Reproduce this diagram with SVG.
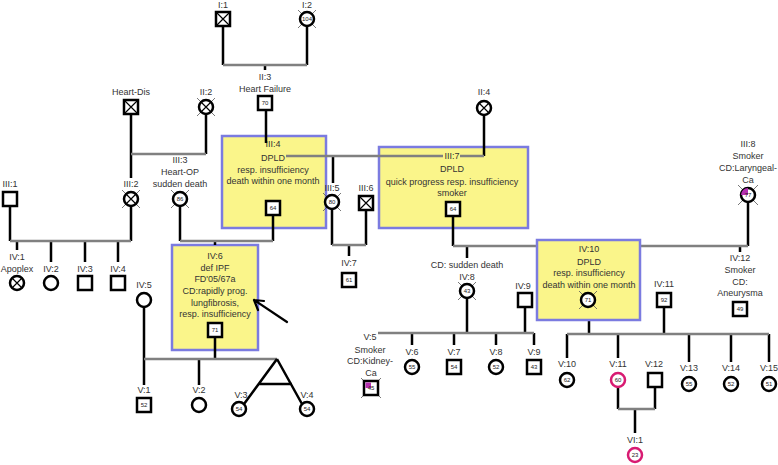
<svg xmlns="http://www.w3.org/2000/svg" width="778" height="465" viewBox="0 0 778 465">
<style>
.v{stroke:#000;stroke-width:2.5;fill:none}
.h{stroke:#808080;stroke-width:2.5;fill:none}
.s{fill:#fff;stroke:#000;stroke-width:2.5}
.m{fill:#fff;stroke:#d81b72;stroke-width:2.5}
.box{fill:#faf58a;stroke:#7b7be0;stroke-width:2.5}
.x{stroke:#000;stroke-width:1.2}
.d{stroke:#555;stroke-width:0.8}
.q{fill:#b52fb0}
.t{font-family:"Liberation Sans",Arial,sans-serif;font-size:9px;fill:#333;text-anchor:middle}
.n{font-family:"Liberation Sans",Arial,sans-serif;font-size:6px;fill:#222;text-anchor:middle}
.ar{stroke:#000;stroke-width:2.2;fill:none;stroke-linecap:round}
</style>

<!-- boxed nodes drawn under connectors -->
<g id="III4">
<rect class="box" x="222" y="136" width="104" height="92"/>
<text class="t" x="273" y="147">III:4</text>
<text class="t" x="273" y="161">DPLD</text>
<text class="t" x="273" y="173">resp. insufficiency</text>
<text class="t" x="273" y="184">death within one month</text>
<rect class="s" x="266" y="201" width="14" height="14"/><text class="n" x="273" y="210">64</text>
</g>
<g id="III7">
<rect class="box" x="379" y="147" width="149" height="81"/>
<text class="t" x="452" y="159">III:7</text>
<text class="t" x="452" y="172">DPLD</text>
<text class="t" x="452" y="185">quick progress resp. insufficiency</text>
<text class="t" x="452" y="196">smoker</text>
<rect class="s" x="446" y="202" width="14" height="14"/><text class="n" x="453" y="211">64</text>
</g>
<g id="IV6">
<rect class="box" x="172" y="245" width="86" height="105"/>
<text class="t" x="215" y="259">IV:6</text>
<text class="t" x="215" y="271">def IPF</text>
<text class="t" x="215" y="282">FD'05/67a</text>
<text class="t" x="215" y="294">CD:rapidly prog.</text>
<text class="t" x="215" y="306">lungfibrosis,</text>
<text class="t" x="215" y="317">resp. insufficiency</text>
<rect class="s" x="208" y="323" width="14" height="14"/><text class="n" x="215" y="332">71</text>
</g>

<g id="connectors">
<path class="v" d="M223,26V65M307,26V65M265,65V70M266,110V143"/>
<path class="h" d="M223,65H307"/>
<path class="v" d="M131,114V178M206,114V154M484,115V156M333,156V183"/>
<path class="h" d="M131,154H206M460,156H484M286,156H443"/>
<path class="v" d="M10,206V241M131,206V241M17,241V250M51,241V262M85,241V262M118,241V262"/>
<path class="h" d="M10,241H131"/>
<path class="v" d="M180,206V241M273,215V241M215,241V245"/>
<path class="h" d="M180,241H273"/>
<path class="v" d="M332,209V245M366,210V245M349,245V256"/>
<path class="h" d="M332,245H366"/>
<path class="v" d="M453,216V246M748,202V246M467,246V258M740,246V252"/>
<path class="h" d="M453,246H748"/>
<path class="v" d="M144,307V385M215,337V359M199,359V385"/>
<path class="h" d="M144,359H277"/>
<path class="v" d="M277,359L244,404M277,359L302,404M258,384H292"/>
<path class="v" d="M467,298V333M525,307V333M412,333V345M454,333V345M496,333V345M534,333V345"/>
<path class="h" d="M378,333H534"/>
<path class="v" d="M589,320V334M664,307V334M567,334V358M618,334V358M689,334V362M731,334V362M769,334V362"/>
<path class="h" d="M567,334H769"/>
<path class="v" d="M618,387V409M655,387V409M635,409V433"/>
<path class="h" d="M618,409H655"/>
<path class="ar" d="M287,322L254,300M254,300L258,310M254,300L264,301"/>
</g>

<g id="I1"><text class="t" x="223" y="8">I:1</text>
<rect class="s" x="216" y="12" width="14" height="14"/><path class="x" d="M216,12L230,26M230,12L216,26"/></g>
<g id="I2"><text class="t" x="307" y="8">I:2</text>
<path class="d" d="M298,10L316,28M316,10L298,28"/>
<circle class="s" cx="307" cy="19" r="7"/><text class="n" x="307" y="21">104</text></g>

<g id="II3"><text class="t" x="265" y="80">II:3</text><text class="t" x="265" y="92">Heart Failure</text>
<rect class="s" x="258" y="96" width="14" height="14"/><text class="n" x="265" y="105">70</text></g>
<g id="HeartDis"><text class="t" x="131" y="95">Heart-Dis</text>
<rect class="s" x="124" y="100" width="14" height="14"/><path class="x" d="M124,100L138,114M138,100L124,114"/></g>
<g id="II2"><text class="t" x="206" y="95">II:2</text>
<path class="d" d="M197,98L215,116M215,98L197,116"/>
<circle class="s" cx="206" cy="107" r="7"/><path class="x" d="M201,102L211,112M211,102L201,112"/></g>
<g id="II4"><text class="t" x="484" y="95">II:4</text>
<circle class="s" cx="484" cy="108" r="7"/><path class="x" d="M479,103L489,113M489,103L479,113"/></g>

<g id="III1"><text class="t" x="10" y="187">III:1</text><rect class="s" x="3" y="192" width="14" height="14"/></g>
<g id="III2"><text class="t" x="131" y="187">III:2</text>
<path class="d" d="M122,190L140,208M140,190L122,208"/>
<circle class="s" cx="131" cy="199" r="7"/><path class="x" d="M126,194L136,204M136,194L126,204"/></g>
<g id="III3"><text class="t" x="180" y="163">III:3</text><text class="t" x="180" y="175">Heart-OP</text><text class="t" x="180" y="187">sudden death</text>
<path class="d" d="M171,190L189,208M189,190L171,208"/>
<circle class="s" cx="180" cy="199" r="7"/><text class="n" x="180" y="201">86</text></g>
<g id="III5"><text class="t" x="332" y="191">III:5</text>
<path class="d" d="M323,193L341,211M341,193L323,211"/>
<circle class="s" cx="332" cy="202" r="7"/><text class="n" x="332" y="204">80</text></g>
<g id="III6"><text class="t" x="366" y="191">III:6</text>
<rect class="s" x="359" y="196" width="14" height="14"/><path class="x" d="M359,196L373,210M373,196L359,210"/></g>
<g id="III8"><text class="t" x="748" y="147">III:8</text><text class="t" x="748" y="159">Smoker</text><text class="t" x="748" y="171">CD:Laryngeal-</text><text class="t" x="748" y="183">Ca</text>
<path class="d" d="M738,185L758,205M758,185L738,205"/>
<circle class="s" cx="748" cy="195" r="7"/><path class="q" d="M748,195L741,195A7,7 0 0 1 748,188Z"/><text class="n" x="748" y="197">77</text></g>

<g id="IV1"><text class="t" x="17" y="260">IV:1</text><text class="t" x="17" y="272">Apoplex</text>
<circle class="s" cx="17" cy="283" r="7"/><path class="x" d="M12,278L22,288M22,278L12,288"/></g>
<g id="IV2"><text class="t" x="51" y="272">IV:2</text><circle class="s" cx="51" cy="283" r="7"/></g>
<g id="IV3"><text class="t" x="85" y="272">IV:3</text><rect class="s" x="78" y="276" width="14" height="14"/></g>
<g id="IV4"><text class="t" x="118" y="272">IV:4</text><rect class="s" x="111" y="276" width="14" height="14"/></g>
<g id="IV5"><text class="t" x="144" y="288">IV:5</text><circle class="s" cx="144" cy="300" r="7"/></g>
<g id="IV7"><text class="t" x="349" y="266">IV:7</text><rect class="s" x="342" y="273" width="14" height="14"/><text class="n" x="349" y="282">61</text></g>
<g id="IV8"><text class="t" x="467" y="268">CD: sudden death</text><text class="t" x="467" y="280">IV:8</text>
<path class="d" d="M458,282L476,300M476,282L458,300"/>
<circle class="s" cx="467" cy="291" r="7"/><text class="n" x="467" y="293">43</text></g>
<g id="IV9"><text class="t" x="523" y="289">IV:9</text><rect class="s" x="518" y="293" width="14" height="14"/></g>
<g id="IV10">
<rect class="box" x="537" y="240" width="103" height="80"/>
<text class="t" x="589" y="252">IV:10</text>
<text class="t" x="589" y="265">DPLD</text>
<text class="t" x="589" y="276">resp. insufficiency</text>
<text class="t" x="589" y="288">death within one month</text>
<path class="d" d="M579,291L597,309M597,291L579,309"/>
<circle class="s" cx="588" cy="300" r="7"/><text class="n" x="588" y="302">71</text></g>
<g id="IV11"><text class="t" x="664" y="287">IV:11</text><rect class="s" x="657" y="293" width="14" height="14"/><text class="n" x="664" y="302">92</text></g>
<g id="IV12"><text class="t" x="740" y="261">IV:12</text><text class="t" x="740" y="273">Smoker</text><text class="t" x="740" y="285">CD:</text><text class="t" x="740" y="296">Aneurysma</text>
<rect class="s" x="733" y="302" width="14" height="14"/><text class="n" x="740" y="311">49</text></g>

<g id="V1"><text class="t" x="144" y="393">V:1</text><rect class="s" x="137" y="398" width="14" height="14"/><text class="n" x="144" y="407">52</text></g>
<g id="V2"><text class="t" x="199" y="393">V:2</text><circle class="s" cx="199" cy="405" r="7"/></g>
<g id="V3"><text class="t" x="241" y="398">V:3</text><circle class="s" cx="239" cy="409" r="7"/><text class="n" x="239" y="411">54</text></g>
<g id="V4"><text class="t" x="307" y="398">V:4</text><circle class="s" cx="307" cy="409" r="7"/><text class="n" x="307" y="411">54</text></g>
<g id="V5"><text class="t" x="370" y="340">V:5</text><text class="t" x="370" y="353">Smoker</text><text class="t" x="370" y="364">CD:Kidney-</text><text class="t" x="371" y="376">Ca</text>
<path class="d" d="M361,378L381,398M381,378L361,398"/>
<rect class="s" x="364" y="381" width="14" height="14"/><rect class="q" x="365.5" y="382.5" width="5.5" height="5.5"/><text class="n" x="371" y="390">45</text></g>
<g id="V6"><text class="t" x="412" y="355">V:6</text><circle class="s" cx="412" cy="367" r="7"/><text class="n" x="412" y="369">55</text></g>
<g id="V7"><text class="t" x="454" y="355">V:7</text><rect class="s" x="447" y="360" width="14" height="14"/><text class="n" x="454" y="369">54</text></g>
<g id="V8"><text class="t" x="496" y="355">V:8</text><circle class="s" cx="496" cy="367" r="7"/><text class="n" x="496" y="369">52</text></g>
<g id="V9"><text class="t" x="534" y="355">V:9</text><rect class="s" x="527" y="360" width="14" height="14"/><text class="n" x="534" y="369">43</text></g>
<g id="V10"><text class="t" x="567" y="367">V:10</text><circle class="s" cx="567" cy="380" r="7"/><text class="n" x="567" y="382">62</text></g>
<g id="V11"><text class="t" x="618" y="367">V:11</text><circle class="m" cx="618" cy="380" r="7"/><text class="n" x="618" y="382">60</text></g>
<g id="V12"><text class="t" x="654" y="367">V:12</text><rect class="s" x="648" y="373" width="14" height="14"/></g>
<g id="V13"><text class="t" x="689" y="371">V:13</text><circle class="s" cx="689" cy="384" r="7"/><text class="n" x="689" y="386">55</text></g>
<g id="V14"><text class="t" x="731" y="371">V:14</text><circle class="s" cx="731" cy="384" r="7"/><text class="n" x="731" y="386">52</text></g>
<g id="V15"><text class="t" x="769" y="371">V:15</text><circle class="s" cx="769" cy="384" r="7"/><text class="n" x="769" y="386">51</text></g>
<g id="VI1"><text class="t" x="635" y="443">VI:1</text><circle class="m" cx="635" cy="455" r="7"/><text class="n" x="635" y="457">23</text></g>
</svg>
